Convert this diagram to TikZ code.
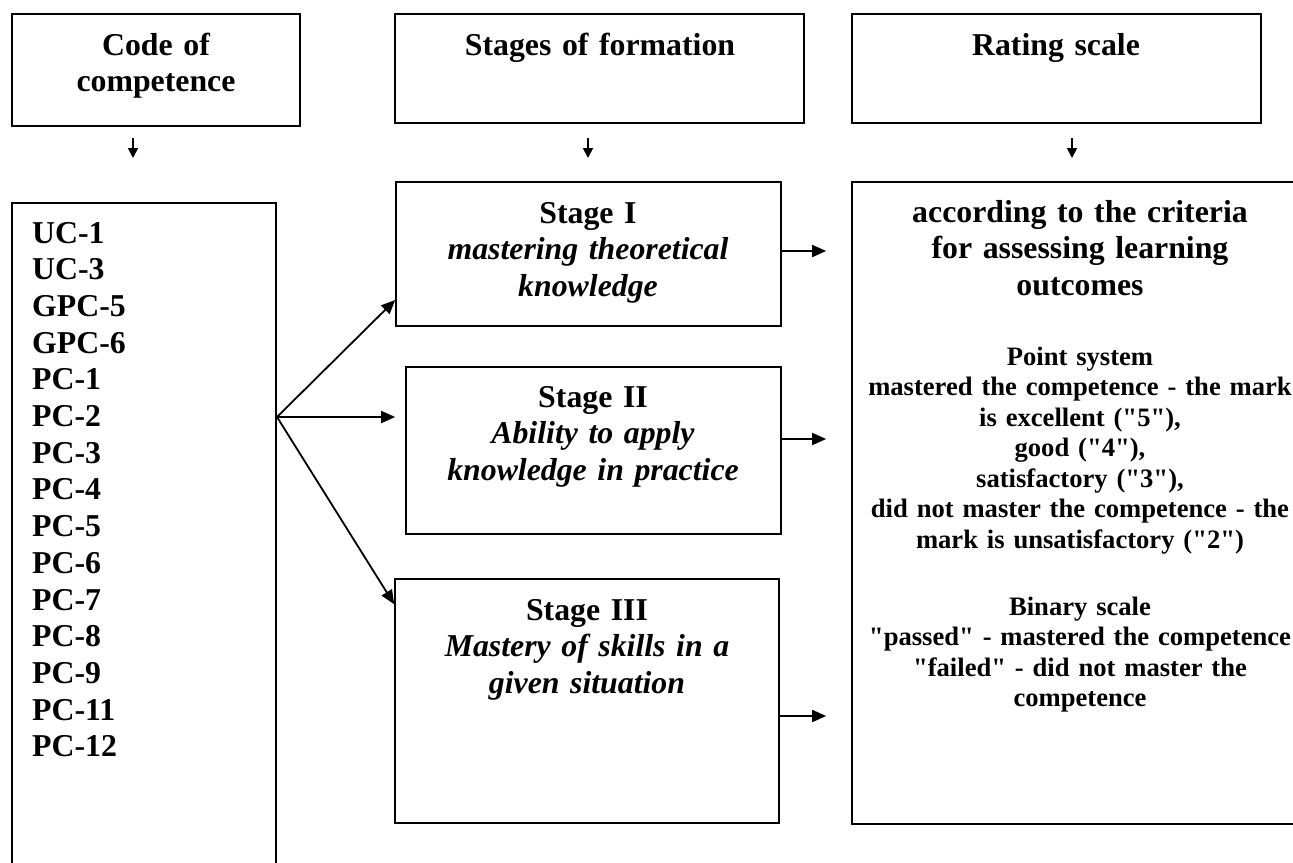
\documentclass[tikz,border=0pt]{standalone}
\usepackage{fontspec}
\setmainfont{Liberation Serif}[Ligatures=TeXOff]
\usetikzlibrary{arrows.meta}
\begin{document}
\begin{tikzpicture}[x=1pt,y=-1pt,
  box/.style={draw, line width=1.7pt, inner sep=0pt},
  big/.style={font=\fontsize{31.8}{36.7}\selectfont\bfseries, inner sep=0pt, align=center, anchor=base},
  small/.style={font=\fontsize{26.6}{30.5}\selectfont\bfseries, inner sep=0pt, align=center, anchor=base},
  arr/.style={line width=1.8pt, -{Triangle[length=14pt,width=12pt]}},
  darr/.style={line width=1.8pt, -{Triangle[length=10pt,width=10pt]}},
]
\clip (0,0) rectangle (1293,862);
\fill[white] (0,0) rectangle (1293,862);
% header boxes
\node[box, minimum width=288pt, minimum height=112pt] (A) at (156,70) {};
\node[box, minimum width=409pt, minimum height=109pt] (B) at (599.5,68.5) {};
\node[box, minimum width=409pt, minimum height=109pt] (C) at (1056.5,68.5) {};
\node[big, text width=280pt] (At) at (156,55) {Code of\\competence};
\node[big, text width=400pt] (Bt) at (600,55) {Stages of formation};
\node[big, text width=400pt] (Ct) at (1056,55) {Rating scale};
% down arrows
\coordinate (a1) at (133,138); \coordinate (a2) at (133,158);
\coordinate (b1) at (588,138); \coordinate (b2) at (588,158);
\coordinate (c1) at (1072,138); \coordinate (c2) at (1072,158);
\draw[darr] (a1) -- (a2);
\draw[darr] (b1) -- (b2);
\draw[darr] (c1) -- (c2);
% list box
\node[box, minimum width=264pt, minimum height=697pt] (L) at (144,551.5) {};
\node[big, text width=220pt, align=left, anchor=base west] (Lt) at (32,243)
  {UC-1\\UC-3\\GPC-5\\GPC-6\\PC-1\\PC-2\\PC-3\\PC-4\\PC-5\\PC-6\\PC-7\\PC-8\\PC-9\\PC-11\\PC-12};
% stage boxes
\node[box, minimum width=385pt, minimum height=144pt] (S1) at (588.5,254) {};
\node[box, minimum width=375pt, minimum height=167pt] (S2) at (593.5,450.5) {};
\node[box, minimum width=384pt, minimum height=244pt] (S3) at (587,701) {};
\node[big, text width=370pt] (S1t) at (588,223) {Stage I\\\textit{mastering theoretical}\\\textit{knowledge}};
\node[big, text width=370pt] (S2t) at (593,407) {Stage II\\\textit{Ability to apply}\\\textit{knowledge in practice}};
\node[big, text width=370pt] (S3t) at (587,620) {Stage III\\\textit{Mastery of skills in a}\\\textit{given situation}};
% right box
\node[box, minimum width=458pt, minimum height=642pt] (R) at (1081,503) {};
\node[big, text width=430pt] (Rh) at (1080,222) {according to the criteria\\for assessing learning\\outcomes};
\node[small, text width=430pt] (Rp) at (1080,365) {Point system\\mastered the competence - the mark\\is excellent ("5"),\\good ("4"),\\satisfactory ("3"),\\did not master the competence - the\\mark is unsatisfactory ("2")};
\node[small, text width=430pt] (Rb) at (1080,615) {Binary scale\\"passed" - mastered the competence\\"failed" - did not master the\\competence};
% fan arrows
\coordinate (fan) at (277,417);
\draw[arr] (fan) -- ([yshift=-46pt]S1.west);
\draw[arr] (fan) -- ([xshift=-10pt,yshift=33.5pt]S2.west);
\draw[arr] (fan) -- ([yshift=-26pt]S3.north west);
% right arrows
\coordinate (o1) at ([yshift=3pt]S1.east);
\coordinate (o2) at ([yshift=11.5pt]S2.east);
\coordinate (o3) at ([yshift=-15pt]S3.east);
\draw[arr, shorten >=25pt] (o1) -- (o1 -| R.west);
\draw[arr, shorten >=25pt] (o2) -- (o2 -| R.west);
\draw[arr, shorten >=25pt] (o3) -- (o3 -| R.west);
\end{tikzpicture}
\end{document}
